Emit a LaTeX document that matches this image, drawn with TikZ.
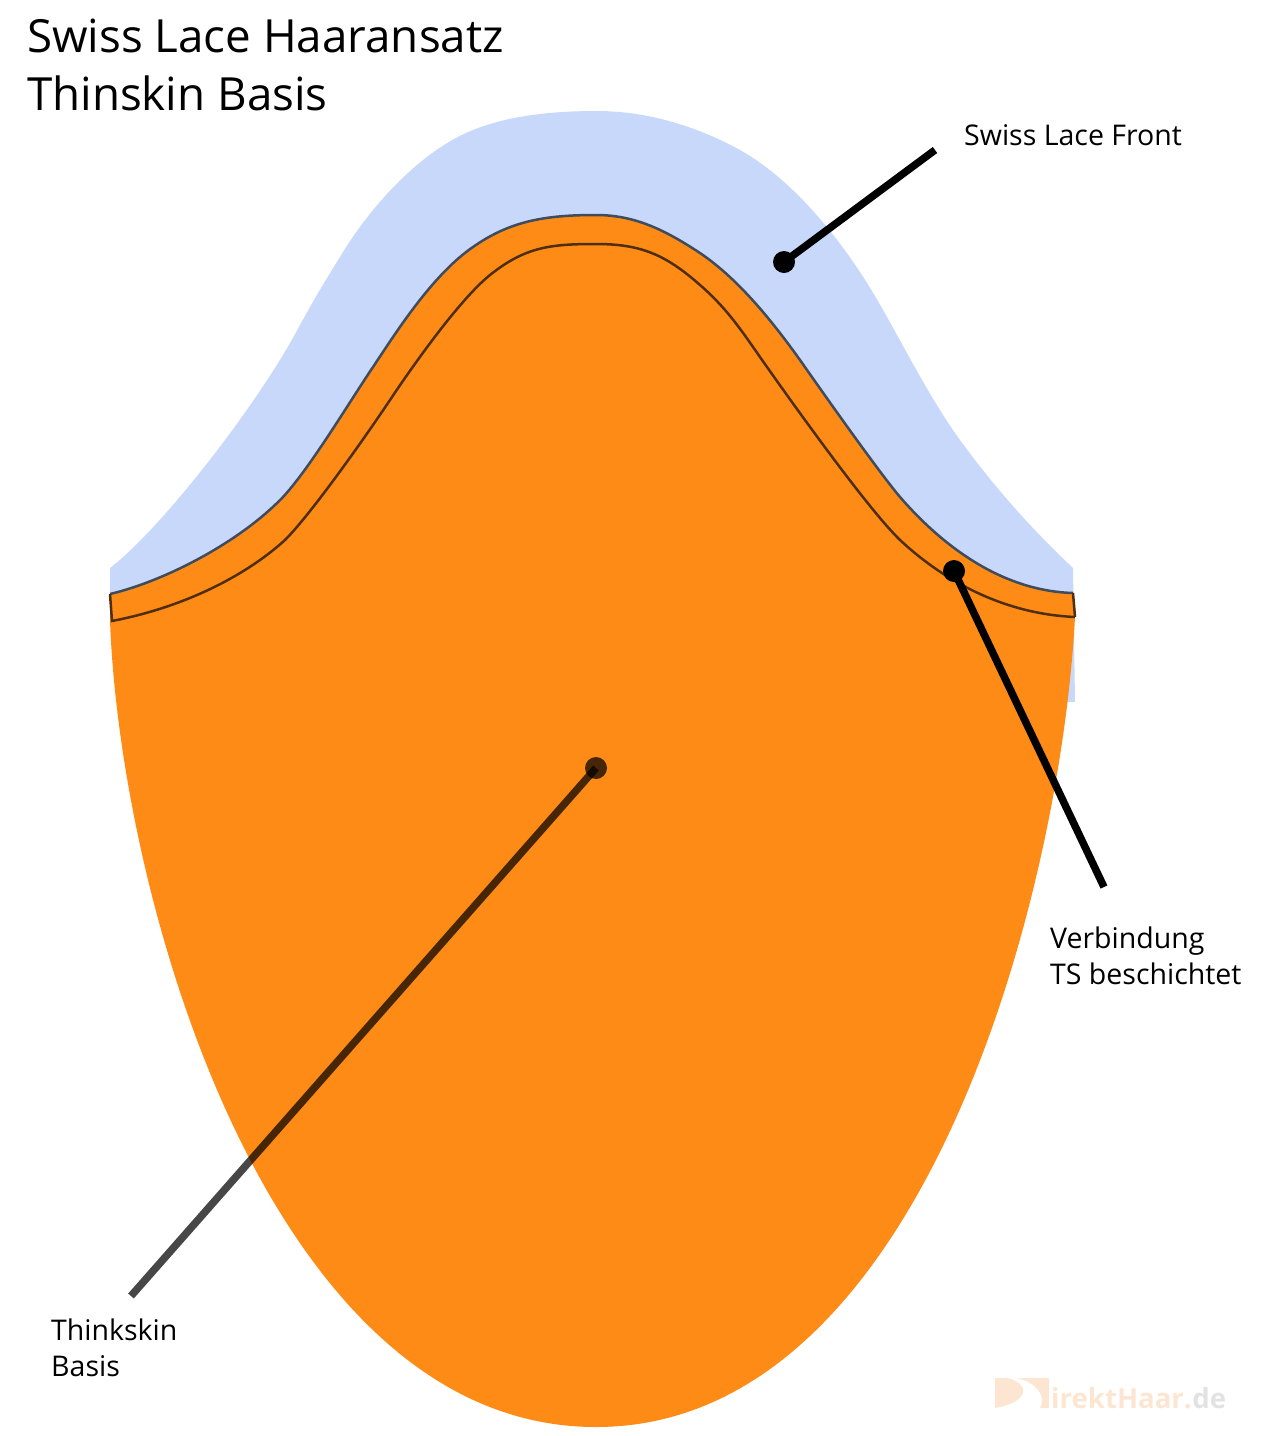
\documentclass[tikz,border=0pt]{standalone}
\usepackage{fontspec}
\setmainfont{Open Sans}
\usetikzlibrary{positioning}
\definecolor{lace}{HTML}{C7D8FB}
\definecolor{skin}{HTML}{FF8B17}
\definecolor{seam}{HTML}{3E4C5E}
\definecolor{seamdark}{HTML}{4F2E0E}
\definecolor{markpeach}{HTML}{FCE6D2}
\definecolor{markgrey}{HTML}{E2E2E2}
\tikzset{title node/.style={anchor=north west,inner sep=0pt,align=left,font=\fontsize{45.7}{58}\selectfont},
         label node/.style={anchor=north west,inner sep=0pt,align=left,font=\fontsize{28.5}{36}\selectfont},
         dot node/.style={circle,fill=black,minimum size=22pt,inner sep=0pt},
         pointer/.style={draw,black,line width=7.5pt},
         mark node/.style={anchor=base west,inner sep=0pt,font=\fontsize{27.6}{28}\selectfont\bfseries},
            }
\newcommand{\seamtop}{(110,594) .. controls (165,581) and (240,542) .. (283,497)
        .. controls (310,468) and (350,401) .. (373,367)
        .. controls (395,334) and (432,275) .. (473,247)
        .. controls (510,221) and (545,215) .. (596,215)
        .. controls (635,215) and (665,230) .. (700,253)
        .. controls (740,280) and (775,325) .. (800,360)
        .. controls (821,390) and (878,471) .. (900,497)
        .. controls (946,550) and (1005,591) .. (1073,593)}
\newcommand{\seambelow}{(1075,617) .. controls (1005,614) and (945,582) .. (900,540)
        .. controls (868,509) and (796,408) .. (767,367)
        .. controls (745,336) and (730,311) .. (700,285)
        .. controls (665,254) and (640,244) .. (596,244)
        .. controls (550,244) and (525,247) .. (490,275)
        .. controls (459,300) and (412,367) .. (390,400)
        .. controls (368,433) and (312,513) .. (285,540)
        .. controls (250,572) and (190,606) .. (112,621)}

\begin{document}
\begin{tikzpicture}[x=1pt,y=-1pt]
    \useasboundingbox (0,0) rectangle (1280,1436);

    % lace
    \fill[lace] (110,568) .. controls (160,530) and (258,405) .. (300,325)
        .. controls (313,301) and (325,281) .. (340,257)
        .. controls (371,205) and (422,150) .. (473,130)
        .. controls (510,115) and (555,111) .. (597,111)
        .. controls (650,111) and (700,128) .. (740,150)
        .. controls (795,181) and (840,240) .. (867,283)
        .. controls (892,322) and (925,392) .. (960,440)
        .. controls (1000,495) and (1040,537) .. (1073,568)
        -- (1075,702) -- (1060,702) -- (1060,621) -- (110,621) -- cycle;

    % basis
    \fill[skin] \seamtop -- (1075,617) .. controls (1060,900) and (920,1427) .. (596,1427)
        .. controls (270,1427) and (120,900) .. (110,620) -- cycle;

    % band
    \draw[seam,line width=2.5pt] \seamtop;
    \draw[seamdark,line width=2.5pt] \seambelow -- (110,594);
    \draw[seamdark,line width=2.5pt] (1073,593) -- (1075,617);

    \node[title node] (title) at (27,19) {Swiss Lace Haaransatz\\Thinskin Basis};
    \node[label node] (front) at (964,124) {Swiss Lace Front};
    \node[label node] (joint) at (1050,927) {Verbindung\\TS beschichtet};
    \node[label node] (basis) at (51,1319) {Thinkskin\\Basis};

    \node[dot node] (frontdot) at (784,262) {};
    \node[dot node] (jointdot) at (954,571) {};
    \node[dot node,opacity=.72] (basisdot) at (596,768) {};
    \coordinate (frontend) at (935,150);
    \coordinate (jointend) at (1104,887);
    \coordinate (basisend) at (131,1296);

    \path[pointer]
    (frontdot.center) edge node {} (frontend)
    (jointdot.center) edge node {} (jointend);
    \path[pointer,opacity=.72]
    (basisdot.center) edge node {} (basisend);

    % watermark
    \fill[markpeach] (995,1378) -- (1008,1378) .. controls (1030,1384) and (1030,1402) .. (995,1408) -- cycle;
    \fill[markpeach] (1017,1378) -- (1049,1378) -- (1049,1408) -- (1040,1408)
        .. controls (1047,1395) and (1035,1382) .. (1017,1378) -- cycle;
    \node[mark node,text=markpeach] (markname) at (1051,1408) {irektHaar.};
    \node[mark node,text=markgrey] (markde) at (markname.base east) {de};
\end{tikzpicture}
\end{document}
